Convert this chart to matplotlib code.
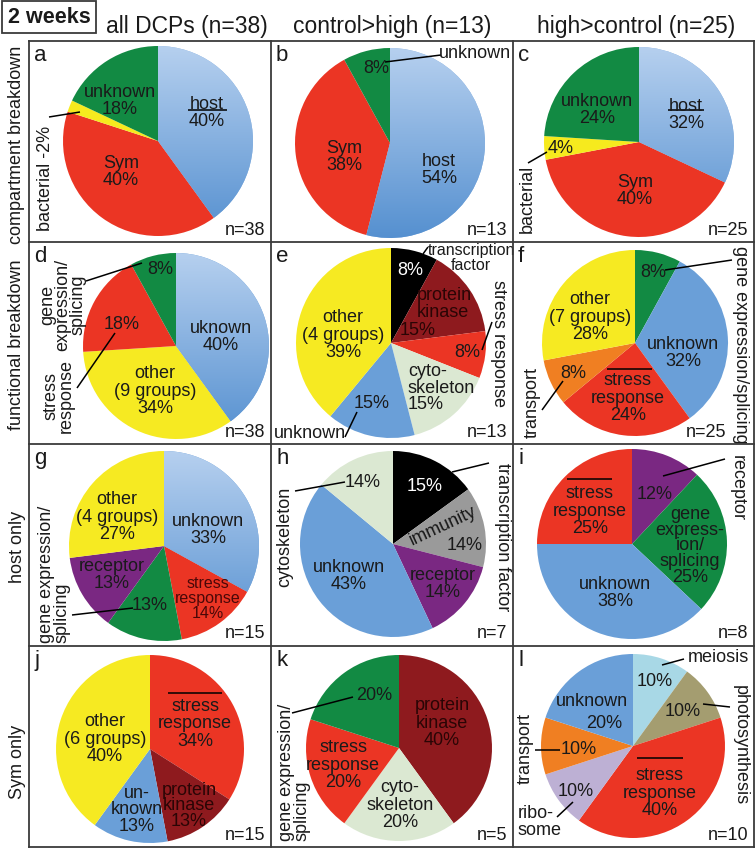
import numpy as np
import matplotlib
matplotlib.use('Agg')
import matplotlib.pyplot as plt
from matplotlib.colors import LinearSegmentedColormap
from matplotlib.patches import Rectangle

plt.rcParams['font.family'] = ['Liberation Sans', 'DejaVu Sans']

W, H = 756, 849

# ---------------- data ----------------
col_titles = ['all DCPs (n=38)', 'control>high (n=13)', 'high>control (n=25)']
row_titles = ['compartment breakdown', 'functional breakdown', 'host only', 'Sym only']

a_cats = ['host', 'Sym', 'bacterial', 'unknown']
a_vals = [40, 40, 2, 18]
b_cats = ['host', 'Sym', 'unknown']
b_vals = [54, 38, 8]
c_cats = ['host', 'Sym', 'bacterial', 'unknown']
c_vals = [32, 40, 4, 24]
d_cats = ['unknown', 'other', 'stress response', 'gene expression/splicing']
d_vals = [40, 34, 18, 8]
e_cats = ['transcription factor', 'protein kinase', 'stress response', 'cytoskeleton', 'unknown', 'other']
e_vals = [8, 15, 8, 15, 15, 39]
f_cats = ['gene expression/splicing', 'unknown', 'stress response', 'transport', 'other']
f_vals = [8, 32, 24, 8, 28]
g_cats = ['unknown', 'stress response', 'gene expression/splicing', 'receptor', 'other']
g_vals = [33, 14, 13, 13, 27]
h_cats = ['transcription factor', 'immunity', 'receptor', 'unknown', 'cytoskeleton']
h_vals = [15, 14, 14, 43, 14]
i_cats = ['receptor', 'gene expression/splicing', 'unknown', 'stress response']
i_vals = [12, 25, 38, 25]
j_cats = ['stress response', 'protein kinase', 'unknown', 'other']
j_vals = [34, 13, 13, 40]
k_cats = ['protein kinase', 'cytoskeleton', 'stress response', 'gene expression/splicing']
k_vals = [40, 20, 20, 20]
l_cats = ['meiosis', 'photosynthesis', 'stress response', 'ribosome', 'transport', 'unknown']
l_vals = [10, 10, 40, 10, 10, 20]
n_labels = ['n=38', 'n=13', 'n=25', 'n=38', 'n=13', 'n=25', 'n=15', 'n=7', 'n=8', 'n=15', 'n=5', 'n=10']

colors = {
    'host': '#86b0e0', 'Sym': '#eb3524', 'bacterial': '#f6ea1e', 'unknown': '#6a9fd8',
    'other': '#f6ea22', 'stress response': '#eb3524', 'gene expression/splicing': '#128a43',
    'protein kinase': '#8e1a1e', 'transcription factor': '#000000', 'cytoskeleton': '#dbe8d2',
    'transport': '#f07f22', 'receptor': '#7a2882', 'immunity': '#9a9a9a',
    'meiosis': '#a8d8e6', 'photosynthesis': '#a49d70', 'ribosome': '#bdb0d4',
}
comp_colors = dict(colors)
comp_colors['unknown'] = '#128a43'

# ---------------- figure ----------------
fig = plt.figure(figsize=(W / 100, H / 100), dpi=100)
ax = fig.add_axes([0, 0, 1, 1])
ax.set_xlim(0, W)
ax.set_ylim(0, H)
ax.set_aspect('equal')
ax.axis('off')

TXT = '#1a1a1a'


def Y(y):
    return H - y


def T(x, y, s, size=13, **kw):
    kw.setdefault('ha', 'center')
    kw.setdefault('va', 'center')
    kw.setdefault('color', TXT)
    kw.setdefault('linespacing', 1.05)
    ax.text(x, Y(y), s, fontsize=size, **kw)


def L(x0, y0, x1, y1, lw=1.1):
    ax.plot([x0, x1], [Y(y0), Y(y1)], color='black', lw=lw, solid_capstyle='butt')


def grad(wedge, cx, cy, r, top='#b6d0ef', bottom='#5590d0'):
    g = np.linspace(0, 1, 256).reshape(-1, 1)
    cmap = LinearSegmentedColormap.from_list('g', [top, bottom])
    im = ax.imshow(g, extent=(cx - r, cx + r, Y(cy) - r, Y(cy) + r), origin='upper',
                   cmap=cmap, aspect='auto', zorder=1.5, interpolation='bilinear')
    im.set_clip_path(wedge)


def pie(cats, vals, cx, cy, r, cmap_d, grad_cats=()):
    wedges, _ = ax.pie(vals, colors=[cmap_d[c] for c in cats], startangle=90,
                       counterclock=False, center=(cx, Y(cy)), radius=r,
                       wedgeprops=dict(linewidth=0, edgecolor='none'), frame=False)
    for w, c in zip(wedges, cats):
        w.set_zorder(1)
        if c in grad_cats:
            grad(w, cx, cy, r)
    return wedges


pie(a_cats, a_vals, 158, 141, 95, comp_colors, ('host',))
pie(b_cats, b_vals, 390, 143, 95, comp_colors, ('host',))
pie(c_cats, c_vals, 639, 142, 95, comp_colors, ('host',))
pie(d_cats, d_vals, 176, 346, 93, colors, ('unknown',))
pie(e_cats, e_vals, 391, 343, 95, colors)
pie(f_cats, f_vals, 635, 343, 93, colors)
pie(g_cats, g_vals, 164, 546, 95, colors, ('unknown',))
pie(h_cats, h_vals, 393, 544, 93, colors)
pie(i_cats, i_vals, 632, 544, 95, colors)
pie(j_cats, j_vals, 150, 749, 94, colors)
pie(k_cats, k_vals, 399, 748, 93, colors)
pie(l_cats, l_vals, 633, 746, 92, colors)

ax.set_xlim(0, W)
ax.set_ylim(0, H)

# ---------------- frame ----------------
FC = '#3a3a3a'
xs = [29, 271, 513, 754]
ys = [41, 242, 444, 646, 847]
for yy in ys:
    ax.plot([xs[0], xs[-1]], [Y(yy), Y(yy)], color=FC, lw=1.3, zorder=5)
for xx in xs:
    ax.plot([xx, xx], [Y(ys[0]), Y(ys[-1])], color=FC, lw=1.3, zorder=5)

ax.add_patch(Rectangle((2, Y(33)), 94, 32, fill=False, edgecolor=FC, lw=1.3, zorder=5))
T(49, 17, '2 weeks', size=15.5, fontweight='bold')

for x, t in zip([187, 392, 636], col_titles):
    T(x, 26, t, size=16.5)
for y, t in zip([145, 345, 547, 762], row_titles):
    T(17, y, t, size=13, rotation=90)

letters = 'abcdefghijkl'
for i, ch in enumerate(letters):
    r, c = divmod(i, 3)
    T(xs[c] + 5, ys[r] + 20, ch, size=16, ha='left', va='baseline')
for i, s in enumerate(n_labels):
    r, c = divmod(i, 3)
    xr = xs[c + 1] - 6
    if i == 5:
        xr = 726
    T(xr, ys[r + 1] - 12, s, size=13, ha='right')

# ---------------- panel labels ----------------
# a
T(207, 113, 'host\n40%')
L(188, 110, 227, 110)
T(120, 101, 'unknown\n18%')
T(121, 172, 'Sym\n40%')
T(46, 178, 'bacterial -2%', rotation=90)
L(49, 117, 80, 112)
# b
T(344, 157, 'Sym\n38%')
T(439, 170, 'host\n54%')
T(376, 68, '8%')
T(475, 53, 'unknown')
L(385, 62, 441, 55)
# c
T(686, 115, 'host\n32%')
L(668, 110, 704, 110)
T(597, 110, 'unknown\n24%')
T(561, 148, '4%')
T(635, 191, 'Sym\n40%')
T(527, 199, 'bacterial', rotation=90)
L(528, 163, 547, 152)
# d
T(63, 305, 'gene\nexpression/\nsplicing', rotation=90, linespacing=0.85)
T(160, 269, '8%')
L(86, 281, 142, 263)
T(122, 324, '18%')
T(59, 396, 'stress\nresponse', rotation=90, linespacing=0.85)
L(77, 388, 115, 333)
T(221, 337, 'uknown\n40%')
T(155, 391, 'other\n(9 groups)\n34%')
# e
T(410, 270, '8%', color='white')
T(471, 258, 'transcription\nfactor', size=11.5, linespacing=0.95)
L(423, 254, 428, 247)
T(417, 304, 'protein\nkinase', ha='left', color='#2a0505', linespacing=0.95)
T(418, 330, '15%', color='#2a0505')
T(498, 343, 'stress response', rotation=270)
T(467, 352, '8%')
L(482, 350, 492, 322)
T(408, 388, 'cyto-\nskeleton\n15%', ha='left', linespacing=0.95)
T(372, 403, '15%')
T(310, 433, 'unknown')
L(345, 437, 357, 412)
T(343, 335, 'other\n(4 groups)\n39%')
# f
T(653, 272, '8%')
T(740, 345, 'gene expression/splicing', rotation=270)
L(665, 270, 732, 260)
T(683, 353, 'unknown\n32%')
T(590, 317, 'other\n(7 groups)\n28%')
T(573, 373, '8%')
T(532, 402, 'transport', rotation=90)
L(542, 410, 563, 381)
T(628, 398, 'stress\nresponse\n24%')
L(607, 369, 652, 369)
# g
T(208, 530, 'unknown\n33%')
T(117, 517, 'other\n(4 groups)\n27%')
T(112, 575, 'receptor\n13%')
T(208, 599, 'stress\nresponse\n14%', size=11.5, color='#4a0808', linespacing=1.0)
T(150, 605, '13%')
T(54, 574, 'gene expression/\nsplicing', rotation=90, multialignment='left', linespacing=0.9)
L(72, 615, 133, 608)
# h
T(363, 482, '14%')
T(285, 537, 'cytoskeleton', rotation=90)
L(295, 491, 345, 482)
T(425, 486, '15%', color='white')
T(502, 537, 'transcription factor', rotation=270)
L(452, 472, 489, 463)
T(443, 526, 'immunity', rotation=25)
T(465, 546, '14%')
T(443, 584, 'receptor\n14%')
T(349, 576, 'unknown\n43%')
# i
T(590, 511, 'stress\nresponse\n25%')
L(567, 479, 612, 479)
T(655, 494, '12%')
T(737, 488, 'receptor', rotation=270)
L(663, 476, 725, 459)
T(690, 546, 'gene\nexpress-\nion/\nsplicing\n25%', linespacing=0.92)
T(615, 593, 'unknown\n38%')
# j
T(195, 724, 'stress\nresponse\n34%')
L(168, 693, 222, 693)
T(105, 739, 'other\n(6 groups)\n40%')
T(137, 810, 'un-\nknown\n13%', linespacing=0.95)
T(189, 806, 'protein\nkinase\n13%', color='#2a0505', linespacing=0.85)
# k
T(374, 695, '20%')
T(294, 772, 'gene expression/\nsplicing', rotation=90, multialignment='left', linespacing=0.9)
L(292, 713, 353, 697)
T(343, 765, 'stress\nresponse\n20%')
T(442, 723, 'protein\nkinase\n40%', color='#2a0505')
T(400, 805, 'cyto-\nskeleton\n20%')
# l
T(718, 657, 'meiosis')
L(662, 665, 684, 659)
T(655, 681, '10%')
T(683, 712, '10%')
T(740, 745, 'photosynthesis', rotation=270)
L(703, 704, 730, 707)
T(592, 702, 'unknown')
T(604, 723, '20%')
T(579, 749, '10%')
T(525, 748, 'transport', rotation=90)
L(535, 750, 560, 750)
T(660, 793, 'stress\nresponse\n40%')
L(637, 758, 683, 758)
T(576, 792, '10%')
T(518, 822, 'ribo-\nsome', ha='left', linespacing=0.95)
L(557, 817, 573, 802)

fig.savefig('out.png', dpi=100)
